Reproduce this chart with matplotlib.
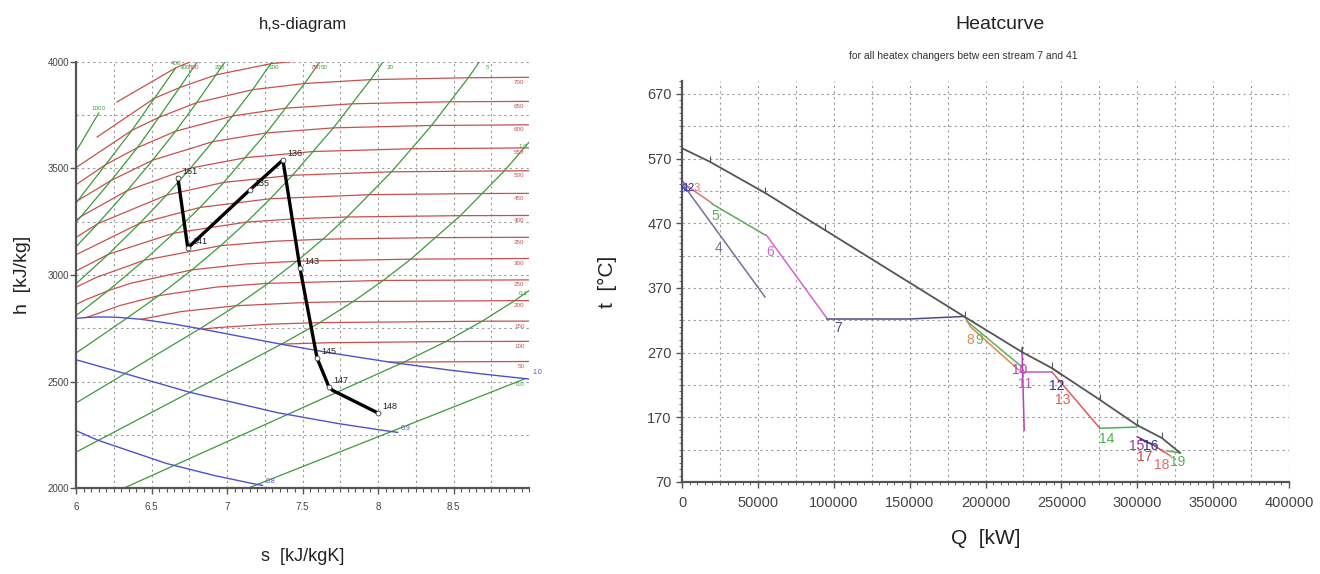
import matplotlib
matplotlib.use("Agg")
import matplotlib.pyplot as plt
from matplotlib.ticker import MultipleLocator, FixedLocator

plt.rcParams['font.family'] = ['Liberation Sans', 'DejaVu Sans']

# ---------------- h,s-diagram data ----------------
# isotherms (t in degC): s [kJ/kgK], h [kJ/kg]
iso_t_labels = [800, 750, 700, 650, 600, 550, 500, 450, 400, 350, 300, 250, 200, 150, 100, 50]
iso_t_s = [
    [6.27, 6.6606, 6.8221],
    [6.14, 6.52, 6.69, 6.93, 7.29, 7.63],
    [5.98, 6.3701, 6.5491, 6.7990, 7.1696, 7.5136, 7.9509, 8.5977, 9.0],
    [5.95, 6.1955, 6.4058, 6.6593, 7.0403, 7.3884, 7.8300, 8.4784, 9.0],
    [5.85, 6.0135, 6.2331, 6.5075, 6.9045, 7.2605, 7.7043, 8.3544, 9.0],
    [5.80, 6.0342, 6.3390, 6.7585, 7.1236, 7.5718, 8.2233, 8.9708, 9.0],
    [5.7956, 6.1446, 6.5995, 6.9781, 7.4337, 8.0893, 8.8362, 9.0],
    [5.68, 5.9043, 6.4219, 6.8210, 7.2866, 7.9465, 8.6866, 9.0],
    [5.8837, 6.2141, 6.6483, 7.1292, 7.4670, 7.7956, 8.5452, 9.0],
    [5.76, 5.9460, 6.1321, 6.4516, 6.9583, 7.3029, 7.6346, 8.385, 9.0],
    [5.93, 6.0703, 6.2110, 6.3639, 6.7684, 7.1246, 7.4614, 8.2172, 9.0],
    [6.0721, 6.2893, 6.5475, 6.9265, 7.2725, 8.0346, 9.0],
    [6.4302, 6.6956, 7.0610, 7.5081, 7.8356, 8.9049, 9.0],
    [6.8371, 6.9306, 7.2810, 7.6148, 8.6893, 9.0],
    [7.3541, 7.6953, 8.4489, 9.0],
    [8.0748, 9.0],
]
iso_t_h = [
    [3812, 3972.6, 4020.0],
    [3648, 3830, 3881, 3940, 3992, 4016],
    [3495, 3679.2, 3740.2, 3809.1, 3870.0, 3899.0, 3917.2, 3926.0, 3928.0],
    [3400, 3517.8, 3597.5, 3675.0, 3746.9, 3783.2, 3803.8, 3813.4, 3815.0],
    [3270, 3350.4, 3444.2, 3539.0, 3625.8, 3666.9, 3690.7, 3702.1, 3705.0],
    [3154, 3275.5, 3396.2, 3502.0, 3550.9, 3579.8, 3592.7, 3596.5, 3596.6],
    [3084.8, 3241.2, 3375.1, 3434.7, 3468.3, 3484.5, 3488.7, 3489.2],
    [2950, 3061.7, 3242.4, 3317.2, 3358.2, 3377.2, 3382.5, 3383.2],
    [2975.7, 3097.5, 3196.7, 3248.4, 3264.5, 3272.4, 3278.6, 3279.5],
    [2847, 2924.0, 2988.1, 3069.3, 3137.7, 3158.2, 3168.1, 3175.5, 3177.0],
    [2838, 2885.6, 2925.7, 2961.7, 3024.2, 3051.6, 3064.6, 3074.5, 3077.5],
    [2801.0, 2856.5, 2903.3, 2943.1, 2961.0, 2974.5, 2977.0],
    [2792.0, 2828.3, 2855.8, 2870.7, 2875.5, 2879.6, 2879.8],
    [2745.9, 2752.8, 2769.1, 2776.6, 2783.0, 2783.6],
    [2675.6, 2682.4, 2687.5, 2688.5],
    [2591.3, 2594.0],
]

# isobars (p in bar)
iso_p_labels = ["1000", "400", "300", "200", "100", "50", "20", "5", "1.0", "0.1", "0.01"]
iso_p_s = [
    [5.95, 6.15],
    [5.4762, 5.7965, 6.0135, 6.1955, 6.3701, 6.6606],
    [5.4438, 5.7956, 6.0342, 6.2331, 6.4058, 6.5491, 6.8221],
    [5.5525, 5.9043, 6.1446, 6.3390, 6.5075, 6.6593, 6.7990, 7.0544],
    [5.6159, 5.9460, 6.2141, 6.4219, 6.5995, 6.7585, 6.9045, 7.1696, 7.4087],
    [2.9207, 5.9737, 6.2110, 6.4516, 6.6483, 6.8210, 6.9781, 7.2605, 7.5136, 7.7458],
    [2.4474, 6.3390, 6.5475, 6.7684, 6.9583, 7.1292, 7.2866, 7.4337, 7.7043, 7.9509, 8.1791],
    [1.8604, 6.8207, 7.0610, 7.2725, 7.4614, 7.6346, 7.7956, 8.0893, 8.3544, 8.5977, 8.8240],
    [1.3028, 7.3588, 7.6148, 7.8356, 8.0346, 8.2172, 8.5452, 8.8362, 9.0999],
    [0.6493, 8.1488, 8.1741, 8.4489, 8.6893, 8.9049, 9.1015],
    [0.1059, 8.9756],
]
iso_p_h = [
    [3520, 3760],
    [2906.5, 3154.1, 3350.4, 3517.8, 3679.2, 3972.6],
    [2821.0, 3084.8, 3275.5, 3444.2, 3597.5, 3740.2, 4020.0],
    [2816.9, 3061.7, 3241.2, 3396.2, 3539.0, 3675.0, 3809.1, 4069.8],
    [2725.5, 2924.0, 3097.5, 3242.4, 3375.1, 3502.0, 3625.8, 3870.0, 4114.5],
    [1154.5, 2794.2, 2925.7, 3069.3, 3196.7, 3317.2, 3434.7, 3666.9, 3899.0, 4134.3],
    [908.5, 2798.3, 2903.3, 3024.2, 3137.7, 3248.4, 3358.2, 3468.3, 3690.7, 3917.2, 4148.2],
    [640.1, 2748.1, 2855.8, 2961.0, 3064.6, 3168.1, 3272.4, 3484.5, 3702.1, 3926.0, 4156.5],
    [417.5, 2674.9, 2776.6, 2875.5, 2974.5, 3074.5, 3278.6, 3488.7, 3705.6],
    [191.8, 2583.9, 2592.0, 2687.5, 2783.0, 2879.6, 2977.5],
    [29.3, 2513.7],
]

# lines of constant steam quality
quality_labels = ["1.0", "0.9", "0.8"]
quality_s = [
    [5.9301, 6.0019, 6.0730, 6.1437, 6.2054, 6.2861, 6.4302, 6.6236, 6.8371, 7.0771, 7.3541, 7.6823, 8.0748, 8.4520, 8.6661, 8.8999, 9.0249],
    [5.963, 6.0202, 6.3376, 6.7494, 7.3377, 7.7378, 8.0250, 8.1297],
    [5.948, 6.1447, 6.6006, 6.9188, 7.1501, 7.2349],
]
quality_h = [
    [2789.7, 2796.6, 2800.9, 2803.0, 2802.9, 2800.9, 2792.0, 2772.6, 2745.9, 2713.1, 2675.6, 2634.6, 2591.3, 2555.6, 2537.4, 2519.2, 2510.1],
    [2607.3, 2598.1, 2534.6, 2449.9, 2353.1, 2302.4, 2271.5, 2261.2],
    [2285.4, 2224.3, 2114.9, 2058.2, 2023.8, 2012.3],
]

# process (stream states)
proc_names = ["161", "141", "135", "136", "143", "145", "147", "", "148"]
proc_s = [6.675, 6.74, 7.15, 7.37, 7.483, 7.596, 7.675, 7.70, 8.0]
proc_h = [3455, 3127, 3399, 3540, 3033, 2610, 2474, 2458, 2352]

# ---------------- Heatcurve data ----------------
hot_Q = [0, 18450, 54700, 94200, 186500, 224000, 243800, 275400, 299800, 316300, 328200]
hot_t = [586, 565, 517, 459.5, 325, 271, 246, 197, 158, 138, 115]

hx_names = ["1", "2", "3", "4", "5", "6", "7", "8", "9", "10", "11", "12", "13", "14", "15", "16", "17", "18", "19"]
hx_Q = [
    [0, 3000],
    [0, 4500],
    [0, 19800],
    [0, 54700],
    [19800, 54700],
    [55500, 95500],
    [95500, 150000, 186500],
    [186500, 190000, 222000],
    [188000, 224000],
    [224000, 225500],
    [222700, 243800],
    [243800, 250000],
    [243800, 275400],
    [275400, 299800, 300500],
    [300000, 310000],
    [302000, 312000],
    [310000, 318000],
    [316000, 322000],
    [320000, 328200],
]
hx_t = [
    [527, 520],
    [535, 525],
    [533, 501],
    [532, 356],
    [500, 452],
    [452, 323],
    [322, 322, 326],
    [325, 310, 243],
    [318, 248],
    [277, 150],
    [240, 240],
    [246, 236],
    [240, 153],
    [153, 155, 158],
    [140, 128],
    [136, 126],
    [128, 116],
    [120, 110],
    [118, 115],
]
hx_colors = ["#3c3cb4", "#2c2c8c", "#e07272", "#7a6e98", "#5aaa5a", "#d264d2", "#4a4a86",
             "#e08848", "#60b060", "#b444b4", "#c458c4", "#2c2c8c", "#e05a5a", "#4cb04c",
             "#9a36a6", "#34348a", "#c84848", "#e06a6a", "#52b052"]
hx_label_Q = [1800, 5600, 9400, 24000, 22000, 58000, 103000, 190000, 196000, 222500, 226000, 247000, 251000, 280000, 299500, 309000, 305000, 316000, 326500]
hx_label_t = [524, 524, 524, 432, 482, 425, 308, 290, 290, 243, 222, 218, 197, 137, 126, 126, 108, 96, 101]
hx_label_size = [8, 8, 8, 10, 10, 10, 10, 10, 10, 10, 10, 10, 10, 10, 10, 10, 10, 10, 10]

# ---------------- figure ----------------
fig = plt.figure(figsize=(13.2, 5.74), dpi=100)

RED = "#c8504e"
GREEN = "#3c9a3c"
BLUE = "#5050c8"
GRID = dict(color="#9a9a9a", linestyle=(0, (2, 3)), linewidth=0.8)

# ---- left: h,s diagram ----
ax1 = fig.add_axes([0.0576, 0.1498, 0.3432, 0.7422])
ax1.set_xlim(6, 9)
ax1.set_ylim(2000, 4000)

for s, h in zip(iso_t_s, iso_t_h):
    ax1.plot(s, h, color=RED, lw=0.9, zorder=2)
for s, h in zip(iso_p_s, iso_p_h):
    ax1.plot(s, h, color=GREEN, lw=0.9, zorder=2)
for s, h in zip(quality_s, quality_h):
    ax1.plot(s, h, color=BLUE, lw=1.0, zorder=2)

# isotherm labels at right edge / top edge
for lab, s, h in zip(iso_t_labels, iso_t_s, iso_t_h):
    if s[-1] >= 8.99:
        ax1.text(8.97, h[-1] - 12, str(lab), color=RED, fontsize=4.5, ha="right", va="top", zorder=4)
    else:
        ax1.text(s[-1] - 0.04, 3985, str(lab), color=RED, fontsize=4.5, ha="center", va="top", zorder=4)

# isobar labels
for lab, s, h in zip(iso_p_labels, iso_p_s, iso_p_h):
    if h[-1] > 3995:
        ax1.text(s[-1] - 0.1, 3985, lab, color=GREEN, fontsize=4.5, ha="center", va="top", zorder=4)
    elif s[-1] >= 8.99:
        ax1.text(8.99, 2900 if lab == "0.1" else 3590, lab, color=GREEN, fontsize=4.5, ha="right", va="bottom", zorder=4)
    elif lab == "0.01":
        ax1.text(8.97, h[-1] - 15, "0.0", color=GREEN, fontsize=4.5, ha="right", va="top", zorder=4)
    else:
        ax1.text(s[-1], h[-1] + 10, lab, color=GREEN, fontsize=4.5, ha="center", va="bottom", zorder=4)

# quality labels
ax1.text(9.02, 2540, quality_labels[0], color=BLUE, fontsize=5, ha="left", va="center", zorder=4, clip_on=False)
ax1.text(8.13 + 0.02, 2265, quality_labels[1], color=BLUE, fontsize=5, ha="left", va="bottom", zorder=4)
ax1.text(7.235 + 0.02, 2014, quality_labels[2], color=BLUE, fontsize=5, ha="left", va="bottom", zorder=4)

# process line
ax1.plot(proc_s, proc_h, color="black", lw=2.4, zorder=5, solid_joinstyle="round")
mark = [i for i, n in enumerate(proc_names) if n]
ax1.plot([proc_s[i] for i in mark], [proc_h[i] for i in mark], "o", ms=3.5, mfc="white",
         mec="#444444", mew=0.6, zorder=6)
for n, s, h in zip(proc_names, proc_s, proc_h):
    if n:
        ax1.text(s + 0.03, h + 10, n, fontsize=6.5, color="#222222", ha="left", va="bottom", zorder=7)

ax1.xaxis.set_major_locator(FixedLocator([6, 6.5, 7, 7.5, 8, 8.5]))
ax1.xaxis.set_minor_locator(MultipleLocator(0.05))
ax1.yaxis.set_major_locator(FixedLocator([2000, 2500, 3000, 3500, 4000]))
ax1.set_xticklabels(["6", "6.5", "7", "7.5", "8", "8.5"])
ax1.set_yticklabels(["2000", "2500", "3000", "3500", "4000"])
for v in [6.25, 6.5, 6.75, 7, 7.25, 7.5, 7.75, 8, 8.25, 8.5, 8.75]:
    ax1.axvline(v, **GRID, zorder=1)
for v in [2250, 2500, 2750, 3000, 3250, 3500, 3750, 4000]:
    ax1.axhline(v, **GRID, zorder=1)
for sp in ["top", "right"]:
    ax1.spines[sp].set_visible(False)
for sp in ["left", "bottom"]:
    ax1.spines[sp].set_color("#555555")
    ax1.spines[sp].set_linewidth(1.6)
ax1.tick_params(axis="both", which="major", labelsize=7, colors="#555555", length=4, width=1, labelcolor="#444444")
ax1.tick_params(axis="x", which="minor", length=3, width=0.8, colors="#555555")
ax1.tick_params(axis="x", which="major", pad=6)
ax1.tick_params(axis="y", which="major", pad=1)
ax1.set_title("h,s-diagram", fontsize=12, pad=24, color="#222222")
ax1.set_xlabel("s  [kJ/kgK]", fontsize=13, labelpad=26, color="#222222")
ax1.set_ylabel("h  [kJ/kg]", fontsize=14, labelpad=12, color="#222222")

# ---- right: heatcurve ----
ax2 = fig.add_axes([0.5167, 0.1603, 0.4598, 0.6986])
ax2.set_xlim(0, 400000)
ax2.set_ylim(70, 690)

ax2.plot(hot_Q, hot_t, color="#555555", lw=1.3, zorder=4)
ax2.plot(hot_Q[1:-1], hot_t[1:-1], linestyle="none", marker=2, ms=4, color="#555555", mew=0.8, zorder=4)
for Q, t, c in zip(hx_Q, hx_t, hx_colors):
    ax2.plot(Q, t, color=c, lw=1.1, zorder=3)
for n, Q, t, c, fs in zip(hx_names, hx_label_Q, hx_label_t, hx_colors, hx_label_size):
    ax2.text(Q, t, n, color=c, fontsize=fs, ha="center", va="center", zorder=5)

ax2.xaxis.set_major_locator(MultipleLocator(50000))
ax2.xaxis.set_minor_locator(MultipleLocator(5000))
ax2.yaxis.set_major_locator(FixedLocator([70, 170, 270, 370, 470, 570, 670]))
ax2.yaxis.set_minor_locator(MultipleLocator(10))
for v in range(25000, 400001, 25000):
    ax2.axvline(v, **GRID, zorder=1)
for v in range(120, 690, 50):
    ax2.axhline(v, **GRID, zorder=1)
for sp in ["top", "right"]:
    ax2.spines[sp].set_visible(False)
for sp in ["left", "bottom"]:
    ax2.spines[sp].set_color("#555555")
    ax2.spines[sp].set_linewidth(1.6)
ax2.tick_params(axis="both", which="major", labelsize=10.5, colors="#555555", length=4, width=1, labelcolor="#444444")
ax2.tick_params(axis="both", which="minor", length=2.5, width=0.7, colors="#666666")
ax2.tick_params(axis="x", which="major", pad=6)
ax2.set_xlabel("Q  [kW]", fontsize=15, labelpad=14, color="#222222")
ax2.set_ylabel("t  [°C]", fontsize=15, labelpad=22, color="#222222")
fig.text(0.7576, 0.958, "Heatcurve", fontsize=14, ha="center", va="center", color="#222222")
fig.text(0.7295, 0.903, "for all heatex changers betw een stream 7 and 41", fontsize=7.5, ha="center", va="center", color="#333333")

fig.savefig("out.png", dpi=100)
